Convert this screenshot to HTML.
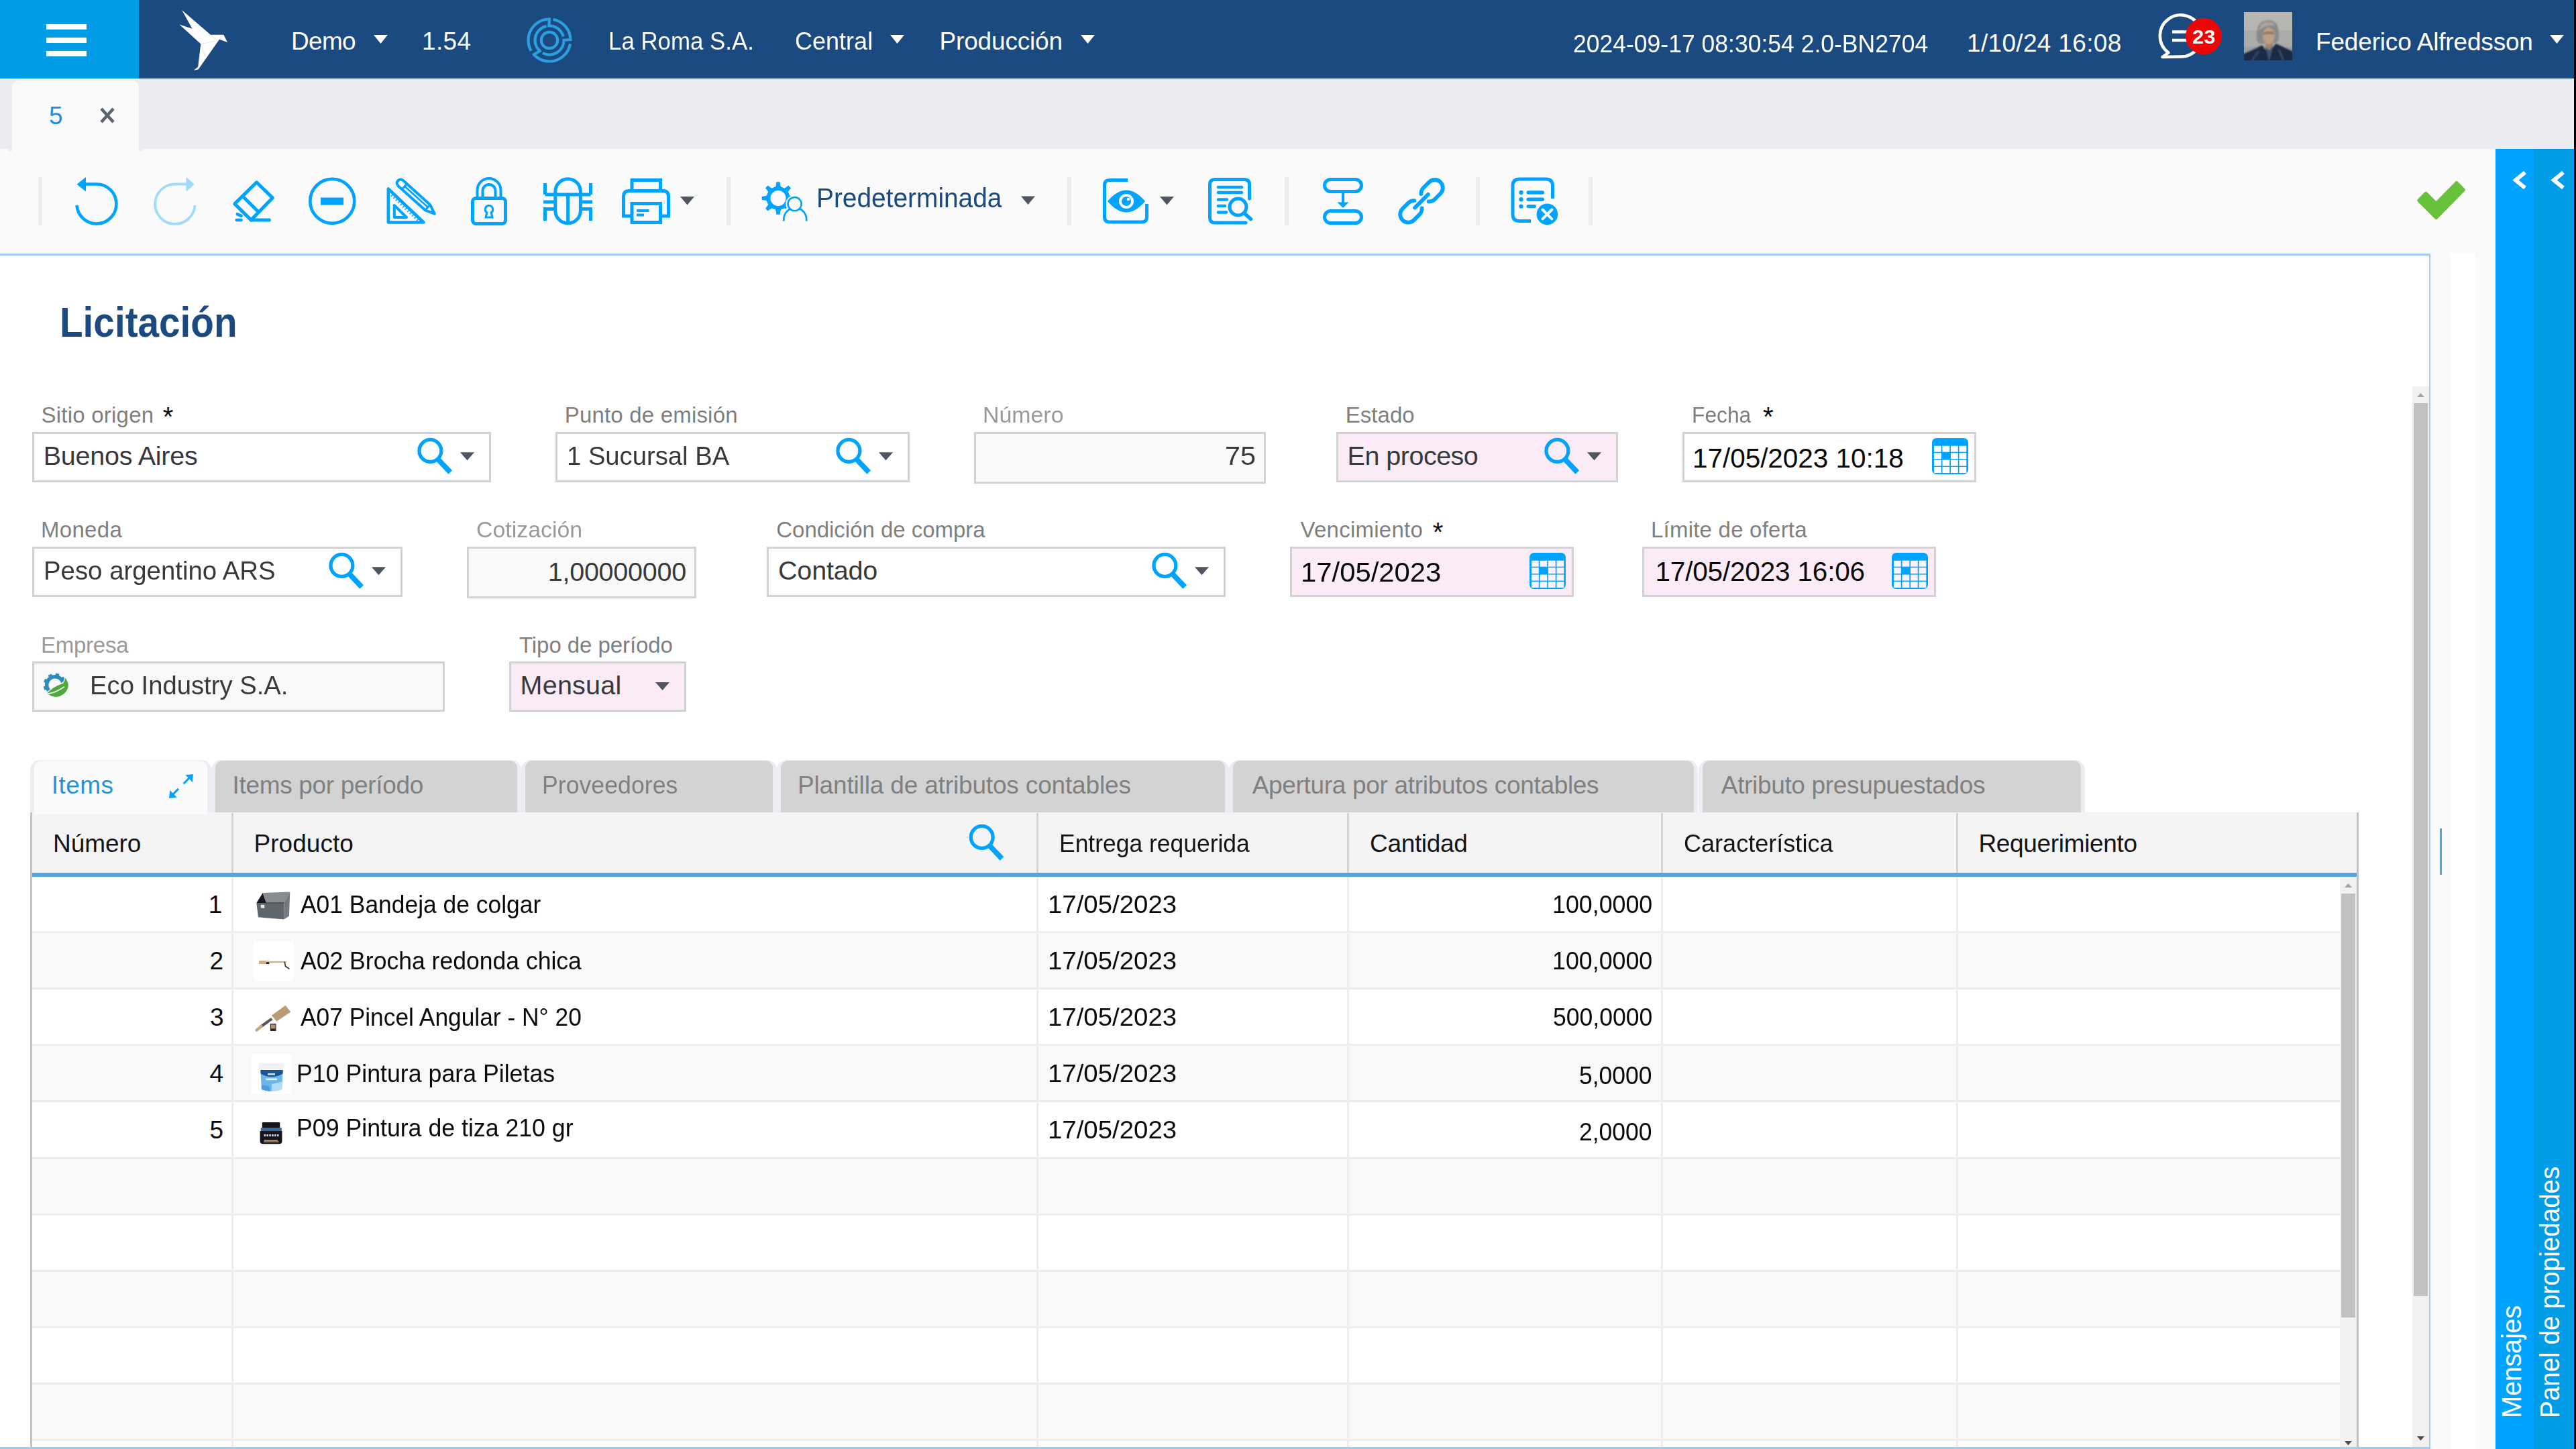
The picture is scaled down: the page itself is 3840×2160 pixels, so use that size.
<!DOCTYPE html>
<html lang="es"><head><meta charset="utf-8"><title>Licitación</title>
<style>
html,body{margin:0;padding:0}
body{background:#fafafa;font-family:"Liberation Sans",sans-serif}
#app{position:relative;width:3840px;height:2160px;overflow:hidden;background:#fafafa}
div,span,svg{position:absolute;box-sizing:border-box}
.t{white-space:pre;line-height:1}
.in{border:3px solid #d2d2d2;background:#fff;height:75px}
.ro{background:#f9f9f9;height:77px}
.pk{background:#faebf7}
.tab{top:1133px;height:78px;border-radius:15px 15px 0 0;background:#ececf2}
.tab i{position:absolute;left:6px;right:6px;top:0.5px;bottom:0;border-radius:11px 11px 0 0;background:#d3d3d3}
.row{left:48px;width:3440px}
.row:after{content:'';position:absolute;left:0;right:0;bottom:0;height:3px;background:#eee}
.ns:after{display:none}
.alt{background:#f9f9f9}
.vs{top:1307px;width:3px;height:850px;background:#eee}
.hs{top:1212px;width:3px;height:89px;background:#d3d3d3}
.sep{top:264px;width:6px;height:72px;background:#ebebf0}
</style></head>
<body>
<div id="app">
<div style="left:0;top:0;width:3837px;height:117px;background:#1a4a7f"></div>
<div style="left:0;top:0;width:207px;height:117px;background:#009de6"></div>
<div style="left:0;top:117px;width:3837px;height:105px;background:#eaecf1"></div>
<div style="left:18px;top:120px;width:189px;height:106px;background:#fafafa;border-radius:9px 9px 0 0"></div>
<div style="left:12px;top:222px;width:6px;height:3px;background:#eaecf1"></div><div style="left:207px;top:222px;width:6px;height:3px;background:#eaecf1"></div>
<div style="left:3720px;top:222px;width:57px;height:1938px;background:#00a3ff"></div>
<div style="left:3777px;top:222px;width:60px;height:1938px;background:#009ce5"></div>
<div style="left:3837px;top:0;width:3px;height:2160px;background:#000"></div>
<div class="sep" style="left:57px"></div>
<div class="sep" style="left:1083px"></div>
<div class="sep" style="left:1591px"></div>
<div class="sep" style="left:1915px"></div>
<div class="sep" style="left:2200px"></div>
<div class="sep" style="left:2368px"></div>
<div style="left:-3px;top:378px;width:3626px;height:1782px;background:#fff;border:3px solid #a3cbf0;border-right-width:2px"></div>
<div style="left:3653px;top:378px;width:37px;height:1782px;background:#fff"></div>
<div style="left:3637px;top:1235px;width:3px;height:69px;background:#55a5dd"></div>
<div style="left:3596px;top:576px;width:25px;height:1581px;background:#f1f1f1"></div>
<div style="left:3598px;top:601px;width:21px;height:1331px;background:#c1c1c1"></div>
<div class="in " style="left:48px;top:644px;width:684px"></div>
<div class="in " style="left:828px;top:644px;width:528px"></div>
<div class="in ro" style="left:1452px;top:644px;width:435px"></div>
<div class="in pk" style="left:1992px;top:644px;width:420px"></div>
<div class="in " style="left:2508px;top:644px;width:438px"></div>
<div class="in " style="left:48px;top:815px;width:552px"></div>
<div class="in ro" style="left:696px;top:815px;width:342px"></div>
<div class="in " style="left:1143px;top:815px;width:684px"></div>
<div class="in pk" style="left:1923px;top:815px;width:423px"></div>
<div class="in pk" style="left:2448px;top:815px;width:438px"></div>
<div class="in" style="left:48px;top:986px;width:615px;background:#f9f9f9"></div>
<div class="in pk" style="left:759px;top:986px;width:264px"></div>
<div style="left:45px;top:1211px;width:3471px;height:946px;background:#fff;border-left:3px solid #c3c3c3;border-right:3px solid #c0c0c0"></div>
<div style="left:48px;top:1211px;width:3465px;height:90px;background:#f4f4f4"></div>
<div style="left:48px;top:1301px;width:3465px;height:6px;background:#4fa6e0"></div>
<div class="row" style="top:1307px;height:84px"></div>
<div class="row alt" style="top:1391px;height:84px"></div>
<div class="row" style="top:1475px;height:84px"></div>
<div class="row alt" style="top:1559px;height:84px"></div>
<div class="row" style="top:1643px;height:85px"></div>
<div class="row alt" style="top:1728px;height:84px"></div>
<div class="row" style="top:1812px;height:84px"></div>
<div class="row alt" style="top:1896px;height:84px"></div>
<div class="row" style="top:1980px;height:84px"></div>
<div class="row alt" style="top:2064px;height:84px"></div>
<div class="row ns" style="top:2148px;height:9px"></div>
<div class="hs" style="left:345px"></div><div class="vs" style="left:345px"></div>
<div class="hs" style="left:1545px"></div><div class="vs" style="left:1545px"></div>
<div class="hs" style="left:2008px"></div><div class="vs" style="left:2008px"></div>
<div class="hs" style="left:2476px"></div><div class="vs" style="left:2476px"></div>
<div class="hs" style="left:2916px"></div><div class="vs" style="left:2916px"></div>
<div style="left:3488px;top:1307px;width:25px;height:850px;background:#f1f1f1"></div>
<div style="left:3490px;top:1332px;width:21px;height:632px;background:#c1c1c1"></div>
<div class="tab" style="left:45px;width:270px"><i style="background:#fafafa;bottom:-2.500px"></i></div>
<div class="tab" style="left:315px;width:462px"><i></i></div>
<div class="tab" style="left:777px;width:381px"><i></i></div>
<div class="tab" style="left:1158px;width:674px"><i></i></div>
<div class="tab" style="left:1832px;width:699px"><i></i></div>
<div class="tab" style="left:2532px;width:576px"><i></i></div>
<svg width="3840" height="2160" viewBox="0 0 3840 2160" style="left:0;top:0"><rect x="69" y="36" width="60" height="8" fill="#fff"/><rect x="69" y="56" width="60" height="8" fill="#fff"/><rect x="69" y="76" width="60" height="8" fill="#fff"/><polygon fill="#fff" points="271.1,14.9 313.8,51.8 333.3,51.8 339.1,63 327,58.8 295.6,103.6 288.9,104.8 295.2,99.4 299.3,65.5 267.4,36.5 286.5,42.7"/><path d="M299.300 65.500L321 61.500M299.300 65.500L306 84M313.800 51.800L323.500 60.500M333.300 51.800L327 58.800" stroke="#d9dde3" stroke-width="0.800" fill="none"/><polygon fill="#fff" points="557,52 578,52 567.5,65"/><polygon fill="#fff" points="1327,52 1348,52 1337.5,65"/><polygon fill="#fff" points="1611,52 1632,52 1621.5,65"/><polygon fill="#fff" points="3801,52 3822,52 3811.5,65"/><path d="M831.2 60A12.2 12.2 0 1 1 806.8 60A12.2 12.2 0 1 1 831.2 60 M805.76 76.94A21.5 21.5 0 0 1 814.53 38.97 M817.50 38.55A21.5 21.5 0 0 1 839.77 54.44 M840.49 60.75A21.5 21.5 0 0 1 808.91 78.98 M791.72 75.75A31.5 31.5 0 0 1 819.55 28.50 M824.47 28.98A31.5 31.5 0 0 1 850.33 56.71 M850.02 65.47A31.5 31.5 0 0 1 795.96 81.48 M819.0 26.5L818.3 40.5 M838.5 60.0L852.5 58.8 M806.5 74.9L794.1 82.4" fill="none" stroke="#2b9fe0" stroke-width="4.2"/><path d="M3223.500 85L3232.500 78.500A31 31 0 1 1 3250 84.500Z" fill="none" stroke="#fff" stroke-width="4.500" stroke-linejoin="round"/><path d="M3238 47.5H3262M3238 60H3262" stroke="#fff" stroke-width="4.5"/><circle cx="3285" cy="54" r="27" fill="#ee0505"/><defs><filter id="bl" x="-10%" y="-10%" width="120%" height="120%"><feGaussianBlur stdDeviation="1.3"/></filter><clipPath id="avc"><rect x="3345" y="18" width="72" height="72"/></clipPath></defs><g clip-path="url(#avc)"><g transform="translate(3345,18)"><rect x="-5" y="-5" width="82" height="82" fill="#aaabab"/><g filter="url(#bl)"><rect x="-5" y="-5" width="82" height="32" fill="#b8b6b1"/><rect x="-5" y="52" width="82" height="30" fill="#9d9fa2"/><path d="M19 40Q17 14 35 12Q54 11 52 38Q51 45 47 46L24 47Q20 46 19 40Z" fill="#8b8987"/><path d="M22 28Q24 15 36 15Q44 15 47 21Q38 18 30 22Q25 25 22 28Z" fill="#aaa8a4"/><rect x="32" y="44" width="11" height="12" fill="#9f846f"/><ellipse cx="37" cy="35.500" rx="9" ry="12.500" fill="#bd9e86"/><path d="M29 31Q37 27 45 31L45 34Q37 31 29 34Z" fill="#8f7562"/><path d="M-5 77V64L27 49.500L37 61L47.500 47L77 60V77Z" fill="#1f2b45"/><path d="M32.500 52L37.500 74L43.500 50L38 57Z" fill="#3d5779"/><path d="M10 75L22 58M60 75L52 56" stroke="#33466a" stroke-width="3"/></g></g></g><path d="M151 162L169 182M169 162L151 182" stroke="#5b6470" stroke-width="4.600"/><path d="M127 274.5H144A29.5 29.5 0 1 1 114.5 306" fill="none" stroke="#00a4fe" stroke-width="4.6"/><polygon points="114.5,274.8 128,264 128,285.5" fill="#00a4fe"/><g opacity="0.36"><path d="M278 274.5H260.800A29.700 29.700 0 1 0 290.500 306" fill="none" stroke="#00a4fe" stroke-width="3.800"/><polygon points="290,274.800 277.500,264 277.500,285.500" fill="#00a4fe"/></g><g fill="none" stroke="#00a4fe" stroke-width="5" stroke-linejoin="round" stroke-linecap="round"><path d="M382.500 271.800L406.300 294.900L374.200 327.900L349.800 303.900Z"/><path d="M361.700 292.500L384.100 314.700" stroke-linecap="butt"/><path d="M374.200 327.900H401.300"/><path d="M353.800 319.300L359.700 321.900M352.700 328.100H359.700" stroke-width="4.500"/></g><circle cx="495.3" cy="299.800" r="33" fill="none" stroke="#00a4fe" stroke-width="4.700"/><rect x="478" y="294.5" width="34" height="11" fill="#00a4fe"/><g fill="none" stroke="#00a4fe" stroke-width="4.500" stroke-linejoin="round"><path d="M578.800 281.500V331.500H631.500Z"/><path d="M587.800 306V324H606Z" stroke-width="4"/></g><path d="M583.500 291L627 332" stroke="#00a4fe" stroke-width="4" stroke-dasharray="1.500 3.300" fill="none"/><g transform="translate(597.3,273.1) rotate(42)" fill="none" stroke="#00a4fe" stroke-width="4" stroke-linejoin="round"><path d="M0 -5.500H54L68 0L54 5.500H0A5.500 5.500 0 0 1 0 -5.500Z" fill="#fafafa"/><path d="M7.500 -5.500V5.500M54 -5.500V5.500" stroke-width="3"/><path d="M7.500 -0.500H54" stroke-width="2.600"/><path d="M62 -2.300L68 0L62 2.300Z" fill="#00a4fe" stroke-width="1.500"/></g><g fill="none" stroke="#00a4fe" stroke-width="5"><rect x="704.5" y="295.5" width="49" height="38" rx="5"/><path d="M711.500 295V283.500A17.500 17.500 0 0 1 746.500 283.500V295" stroke-width="4"/><path d="M719.500 295V284.500A9.500 9.500 0 0 1 738.500 284.500V295" stroke-width="4"/></g><path d="M729 306.5a5.6 5.6 0 0 1 3.2 10.2l1.6 7.3h-9.6l1.6-7.3a5.6 5.6 0 0 1 3.2-10.2z" fill="none" stroke="#00a4fe" stroke-width="3.2"/><g fill="none" stroke="#00a4fe" stroke-width="5" stroke-width="4.6"><rect x="827.8" y="266.8" width="37.6" height="66" rx="18.8"/><path d="M812.5 290H880.5M846.6 290V333M812.5 273V290M880.5 273V290M810 301H827M866 301H883M827 311.5H812.5V329M866 311.5H880.5V329"/></g><g fill="none" stroke="#00a4fe" stroke-width="5"><path d="M942 283V268.5H984.5V283"/><path d="M941 322H929.5V293Q929.5 284.5 938 284.5H988Q996.5 284.5 996.5 293V322H985"/><rect x="942" y="303.5" width="42.5" height="28"/><path d="M949 314H967.5M949 320.5H960" stroke-width="4"/></g><polygon fill="#4f5662" points="1014,293 1035,293 1024.5,305.5"/><polygon fill="#4f5662" points="1522,292.5 1543,292.5 1532.5,305.0"/><polygon fill="#4f5662" points="1729,293 1750,293 1739.5,305.5"/><path d="M1176.2 291.2Q1179.3 292.6 1184.3 292.9L1184.3 298.1Q1179.3 298.4 1176.2 299.8ZM1174.5 303.9Q1175.7 307.1 1179.0 310.8L1175.3 314.5Q1171.6 311.2 1168.4 310.0ZM1164.3 311.7Q1162.9 314.8 1162.6 319.8L1157.4 319.8Q1157.1 314.8 1155.7 311.7ZM1151.6 310.0Q1148.4 311.2 1144.7 314.5L1141.0 310.8Q1144.3 307.1 1145.5 303.9ZM1143.8 299.8Q1140.7 298.4 1135.7 298.1L1135.7 292.9Q1140.7 292.6 1143.8 291.2ZM1145.5 287.1Q1144.3 283.9 1141.0 280.2L1144.7 276.5Q1148.4 279.8 1151.6 281.0ZM1155.7 279.3Q1157.1 276.2 1157.4 271.2L1162.6 271.2Q1162.9 276.2 1164.3 279.3ZM1168.4 281.0Q1171.6 279.8 1175.3 276.5L1179.0 280.2Q1175.7 283.9 1174.5 287.1Z" fill="#00a4fe"/><circle cx="1160" cy="295.500" r="14.500" fill="none" stroke="#00a4fe" stroke-width="6"/><circle cx="1184.600" cy="304.100" r="13.200" fill="#fafafa"/><path d="M1164.500 331V326A20.500 20 0 0 1 1205.700 326V331Z" fill="#fafafa"/><circle cx="1184.600" cy="304.100" r="10" fill="none" stroke="#00a4fe" stroke-width="2.700"/><path d="M1168.300 329.500V326A17 17.500 0 0 1 1202.200 326V329.500" fill="none" stroke="#00a4fe" stroke-width="2.700"/><circle cx="1184.600" cy="304.100" r="8.600" fill="#fafafa"/><g fill="none" stroke="#00a4fe" stroke-width="5"><path d="M1681 268.5H1654Q1646.5 268.5 1646.5 276V323.5Q1646.5 331 1654 331H1702Q1709.5 331 1709.5 323.5V304"/></g><path d="M1651 300Q1665 283.5 1679 283.5Q1693 283.5 1707 300Q1693 316.5 1679 316.5Q1665 316.5 1651 300Z" fill="#00a4fe"/><circle cx="1679" cy="300" r="11" fill="#fafafa"/><circle cx="1679" cy="300" r="7" fill="#00a4fe"/><circle cx="1682" cy="297" r="2.2" fill="#fafafa"/><g fill="none" stroke="#00a4fe" stroke-width="5" stroke-linecap="round"><path d="M1862.5 296V275Q1862.5 267.5 1855 267.5H1811Q1803.5 267.5 1803.5 275V324.5Q1803.5 332 1811 332H1857"/><g stroke-width="4.5"><path d="M1816 279H1851M1816 287H1851M1816 297.5H1829M1816 307H1826M1816 316.5H1828"/></g><circle cx="1845.5" cy="308.5" r="12.5" fill="#fafafa"/><path d="M1855 318L1864.5 326.5" stroke-width="5.5"/></g><g fill="none" stroke="#00a4fe" stroke-width="5"><rect x="1974.5" y="267.5" width="55" height="18" rx="9"/><rect x="1974.5" y="314.5" width="55" height="18" rx="9"/><path d="M2002 286V303" stroke-width="4"/></g><polygon points="1993.5,301.5 2010.5,301.5 2002,310" fill="#00a4fe"/><g transform="translate(2119,299.8) rotate(-45)" fill="none" stroke="#00a4fe" stroke-width="5.800" stroke-linecap="round"><path d="M7.100 -8A12 12 0 0 1 16 -12H28A12 12 0 0 1 28 12H16A12 12 0 0 1 7.100 8"/><path d="M-7.100 8A12 12 0 0 1 -16 12H-28A12 12 0 0 1 -28 -12H-16A12 12 0 0 1 -7.100 -8"/><path d="M-14 0H14"/></g><g fill="none" stroke="#00a4fe" stroke-width="5"><path d="M2314.5 296V277Q2314.500 267 2304.500 267H2265Q2255 267 2255 277V319.500Q2255 329.500 2265 329.500H2282"/></g><g fill="#00a4fe"><circle cx="2267.5" cy="287" r="3.2"/><circle cx="2267.5" cy="297.3" r="3.2"/><circle cx="2267.5" cy="307.600" r="3.2"/><rect x="2275.500" y="284.300" width="26.500" height="5.400" rx="2.700"/><rect x="2275.500" y="294.600" width="26.500" height="5.400" rx="2.700"/><rect x="2275.500" y="304.900" width="14.500" height="5.400" rx="2.700"/><circle cx="2306.400" cy="319.400" r="15.800"/></g><path d="M2299.500 312.500L2313.300 326.300M2313.300 312.500L2299.500 326.300" stroke="#fff" stroke-width="4" stroke-linecap="round"/><path d="M3605.800 298.700L3616.200 288.300L3631.500 303.500L3662 272.500L3672.400 282.900L3631.500 324.500Z" fill="#68c13a" stroke="#68c13a" stroke-width="5" stroke-linejoin="round"/><path d="M3764 257L3750 268.500L3764 280" fill="none" stroke="#fff" stroke-width="6"/><path d="M3821 257L3807 268.500L3821 280" fill="none" stroke="#fff" stroke-width="6"/><polygon points="3603,592 3614,592 3608.5,586" fill="#a3a3a3"/><polygon points="3603,2141 3614,2141 3608.5,2147.5" fill="#505050"/><polygon points="3495,1323 3506,1323 3500.5,1317" fill="#a3a3a3"/><polygon points="3495,2148 3506,2148 3500.5,2154.5" fill="#505050"/><circle cx="641.4" cy="671.9" r="16.450" fill="none" stroke="#00a4fe" stroke-width="5.300"/><path d="M652.2 683.8L671.2 704.0" stroke="#00a4fe" stroke-width="7.800"/><polygon fill="#4f5662" points="686,674.3 707,674.3 696.5,686.3"/><circle cx="1265.4" cy="671.9" r="16.450" fill="none" stroke="#00a4fe" stroke-width="5.300"/><path d="M1276.2 683.8L1295.2 704.0" stroke="#00a4fe" stroke-width="7.800"/><polygon fill="#4f5662" points="1310,674.3 1331,674.3 1320.5,686.3"/><circle cx="2321.4" cy="671.9" r="16.450" fill="none" stroke="#00a4fe" stroke-width="5.300"/><path d="M2332.2 683.8L2351.2 704.0" stroke="#00a4fe" stroke-width="7.800"/><polygon fill="#4f5662" points="2366,674.3 2387,674.3 2376.5,686.3"/><circle cx="509.4" cy="842.9" r="16.450" fill="none" stroke="#00a4fe" stroke-width="5.300"/><path d="M520.2 854.8L539.2 875.0" stroke="#00a4fe" stroke-width="7.800"/><polygon fill="#4f5662" points="554,845.3 575,845.3 564.5,857.3"/><circle cx="1736.4" cy="842.9" r="16.450" fill="none" stroke="#00a4fe" stroke-width="5.300"/><path d="M1747.2 854.8L1766.2 875.0" stroke="#00a4fe" stroke-width="7.800"/><polygon fill="#4f5662" points="1781,845.3 1802,845.3 1791.5,857.3"/><polygon fill="#4f5662" points="977,1017 998,1017 987.5,1029"/><rect x="2880" y="653" width="54" height="54" rx="6.5" fill="#00a4fe"/><rect x="2883.0" y="664.70" width="10.800" height="9" fill="#fff"/><rect x="2883.0" y="675.15" width="10.800" height="9" fill="#fff"/><rect x="2883.0" y="685.60" width="10.800" height="9" fill="#fff"/><rect x="2883.0" y="696.05" width="10.800" height="9" fill="#fff"/><rect x="2895.5" y="664.70" width="10.800" height="9" fill="#fff"/><rect x="2895.5" y="685.60" width="10.800" height="9" fill="#fff"/><rect x="2895.5" y="696.05" width="10.800" height="9" fill="#fff"/><rect x="2908.0" y="664.70" width="10.800" height="9" fill="#fff"/><rect x="2908.0" y="675.15" width="10.800" height="9" fill="#fff"/><rect x="2908.0" y="685.60" width="10.800" height="9" fill="#fff"/><rect x="2908.0" y="696.05" width="10.800" height="9" fill="#fff"/><rect x="2920.5" y="664.70" width="10.800" height="9" fill="#fff"/><rect x="2920.5" y="675.15" width="10.800" height="9" fill="#fff"/><rect x="2920.5" y="685.60" width="10.800" height="9" fill="#fff"/><rect x="2920.5" y="696.05" width="10.800" height="9" fill="#fff"/><rect x="2280" y="824" width="54" height="54" rx="6.5" fill="#00a4fe"/><rect x="2283.0" y="835.70" width="10.800" height="9" fill="#fdf3fb"/><rect x="2283.0" y="846.15" width="10.800" height="9" fill="#fdf3fb"/><rect x="2283.0" y="856.60" width="10.800" height="9" fill="#fdf3fb"/><rect x="2283.0" y="867.05" width="10.800" height="9" fill="#fdf3fb"/><rect x="2295.5" y="835.70" width="10.800" height="9" fill="#fdf3fb"/><rect x="2295.5" y="856.60" width="10.800" height="9" fill="#fdf3fb"/><rect x="2295.5" y="867.05" width="10.800" height="9" fill="#fdf3fb"/><rect x="2308.0" y="835.70" width="10.800" height="9" fill="#fdf3fb"/><rect x="2308.0" y="846.15" width="10.800" height="9" fill="#fdf3fb"/><rect x="2308.0" y="856.60" width="10.800" height="9" fill="#fdf3fb"/><rect x="2308.0" y="867.05" width="10.800" height="9" fill="#fdf3fb"/><rect x="2320.5" y="835.70" width="10.800" height="9" fill="#fdf3fb"/><rect x="2320.5" y="846.15" width="10.800" height="9" fill="#fdf3fb"/><rect x="2320.5" y="856.60" width="10.800" height="9" fill="#fdf3fb"/><rect x="2320.5" y="867.05" width="10.800" height="9" fill="#fdf3fb"/><rect x="2820" y="824" width="54" height="54" rx="6.5" fill="#00a4fe"/><rect x="2823.0" y="835.70" width="10.800" height="9" fill="#fdf3fb"/><rect x="2823.0" y="846.15" width="10.800" height="9" fill="#fdf3fb"/><rect x="2823.0" y="856.60" width="10.800" height="9" fill="#fdf3fb"/><rect x="2823.0" y="867.05" width="10.800" height="9" fill="#fdf3fb"/><rect x="2835.5" y="835.70" width="10.800" height="9" fill="#fdf3fb"/><rect x="2835.5" y="856.60" width="10.800" height="9" fill="#fdf3fb"/><rect x="2835.5" y="867.05" width="10.800" height="9" fill="#fdf3fb"/><rect x="2848.0" y="835.70" width="10.800" height="9" fill="#fdf3fb"/><rect x="2848.0" y="846.15" width="10.800" height="9" fill="#fdf3fb"/><rect x="2848.0" y="856.60" width="10.800" height="9" fill="#fdf3fb"/><rect x="2848.0" y="867.05" width="10.800" height="9" fill="#fdf3fb"/><rect x="2860.5" y="835.70" width="10.800" height="9" fill="#fdf3fb"/><rect x="2860.5" y="846.15" width="10.800" height="9" fill="#fdf3fb"/><rect x="2860.5" y="856.60" width="10.800" height="9" fill="#fdf3fb"/><rect x="2860.5" y="867.05" width="10.800" height="9" fill="#fdf3fb"/><circle cx="1463.7" cy="1247.9" r="16.450" fill="none" stroke="#00a4fe" stroke-width="5.300"/><path d="M1474.5 1259.8L1493.5 1280.0" stroke="#00a4fe" stroke-width="7.800"/><g fill="#00a4fe" stroke="#00a4fe"><path d="M273.700 1168.200L282.500 1159.300" stroke-width="3"/><polygon points="276.400,1155.300 288,1153.900 286.800,1165.900" stroke="none"/><path d="M265.900 1175.800L257.500 1184.600" stroke-width="3"/><polygon points="253.300,1178.100 252,1189.900 263.600,1188.400" stroke="none"/></g><path d="M72.86 1029.23A12.3 12.3 0 1 1 93.70 1017.20" fill="none" stroke="#2e8bc0" stroke-width="5.500"/><path d="M70.7 1027.5L66.3 1028.7L64.7 1023.4L69.0 1021.9ZM69.2 1018.7L65.0 1016.8L67.2 1011.7L71.5 1013.4ZM73.6 1011.0L71.7 1006.8L76.6 1004.4L78.9 1008.4ZM82.0 1008.0L83.2 1003.5L88.6 1004.8L87.7 1009.3ZM90.4 1011.0L94.2 1008.4L97.5 1012.8L93.9 1015.7Z" fill="#2e8bc0"/><path d="M69.600 1034Q77 1024 93 1018.500Q97.500 1014 96.500 1008.500Q104.500 1017 101.500 1026.500Q97 1038 84 1039.500Q76 1039.500 69.600 1034Z" fill="#4fa83a" stroke="#f9f9f9" stroke-width="1.200"/><path d="M70 1034.500Q84 1032.500 96 1023.500" stroke="#f1f5ee" stroke-width="1.600" fill="none"/><g><path d="M382.300 1345.900L423.600 1345.900L423.100 1370.600L385 1367.200Z" fill="#5f656c"/><path d="M382.300 1345.900L391.700 1330.900L397 1345.900Z" fill="#16161f"/><path d="M391.700 1330.900L432.300 1329.500L423.600 1345.900L397 1345.900Z" fill="#888b8f"/><path d="M423.600 1345.900L432.300 1329.500L430.900 1365.700L423.100 1370.600Z" fill="#74777b"/><path d="M396 1345.900H423.600" stroke="#4a4e53" stroke-width="1.500"/><rect x="388.800" y="1348.800" width="5.400" height="4.800" fill="#e6eef2"/></g><rect x="378" y="1403" width="60" height="60" fill="#fff"/><path d="M386 1434.500H397" stroke="#cdb08a" stroke-width="5"/><rect x="397" y="1431.300" width="4.400" height="2.800" fill="#d8d8d8"/><rect x="397" y="1434.100" width="4.400" height="2.900" fill="#222"/><path d="M401.400 1434H427" stroke="#c9b494" stroke-width="2.400"/><path d="M424.200 1433.700L425.600 1440.500L431.400 1444.400" stroke="#2a2a2a" stroke-width="1.600" fill="none"/><g><path d="M405.300 1518.600L388.400 1530.700" stroke="#57575c" stroke-width="4.200"/><path d="M389.500 1530L382.500 1535.600" stroke="#c9a57a" stroke-width="4.200" stroke-linecap="round"/><path d="M404.800 1513.800L425.600 1498.800L433.300 1508.500L412.500 1522.500Z" fill="#b89a74"/><rect x="402.900" y="1525.900" width="8.600" height="11.100" fill="#2a2a30"/><rect x="404" y="1527.300" width="6.400" height="6" fill="#b39672"/><rect x="407.800" y="1532.600" width="1.600" height="1.600" fill="#e01010"/></g><rect x="375" y="1571" width="60" height="60" fill="#fff"/><path d="M386 1584.500h37.600v8.500q0 1.500-1.500 1.500h-34.600q-1.500 0-1.500-1.500z" fill="#f1f2f5"/><path d="M388.400 1595H421.700L420.200 1624Q405 1629 389.800 1624Z" fill="#6db6ec"/><path d="M388.400 1595H421.700L421.500 1600.500Q405 1610 388.600 1600.500Z" fill="#1c5391"/><path d="M405 1616L420.600 1612.500L420.200 1624Q413 1627 405 1627.300Z" fill="#b4dbf6"/><path d="M390 1617L401 1619L403 1627Q396 1626.500 389.900 1624Z" fill="#4e9fe0"/><rect x="396.500" y="1607.500" width="16.500" height="2.600" fill="#e6f3fc"/><rect x="399" y="1600" width="11" height="2.600" fill="#cfe2f3"/><g><rect x="390.800" y="1673.100" width="26.500" height="8.500" rx="1" fill="#14141f"/><rect x="388.800" y="1681" width="31" height="5.200" fill="#3e6a9a"/><path d="M387.600 1686H420.500V1700.700Q420.500 1705.200 416 1705.200H392.100Q387.600 1705.200 387.600 1700.700Z" fill="#15151f"/><path d="M393.500 1692.500h22" stroke="#d9dbe0" stroke-width="3.200" stroke-dasharray="2.600 1.300"/><path d="M393.700 1700H414" stroke="#c98f4e" stroke-width="1.800"/><path d="M393 1702H415.500" stroke="#8d8d90" stroke-width="1.600"/></g></svg>
<span class="t" style="font-size:37.0px;color:#ffffff;letter-spacing:-0.67px;left:434.0px;top:43.2px;">Demo</span>
<span class="t" style="font-size:37.0px;color:#ffffff;letter-spacing:0.33px;left:629.0px;top:43.2px;">1.54</span>
<span class="t" style="font-size:37.0px;color:#ffffff;left:907.2px;top:43.2px;transform-origin:0 0;transform:scaleX(0.9420);">La Roma S.A.</span>
<span class="t" style="font-size:37.0px;color:#ffffff;left:1185.1px;top:43.2px;transform-origin:0 0;transform:scaleX(0.9739);">Central</span>
<span class="t" style="font-size:37.0px;color:#ffffff;letter-spacing:-0.17px;left:1400.5px;top:43.2px;">Producción</span>
<span class="t" style="font-size:37.0px;color:#ffffff;left:2345.1px;top:46.7px;transform-origin:0 0;transform:scaleX(0.9599);">2024-09-17 08:30:54 2.0-BN2704</span>
<span class="t" style="font-size:37.0px;color:#ffffff;letter-spacing:0.33px;left:2932.0px;top:46.2px;">1/10/24 16:08</span>
<span class="t" style="font-size:37.0px;color:#ffffff;letter-spacing:-0.17px;left:3452.0px;top:43.7px;">Federico Alfredsson</span>
<span class="t" style="font-size:30.0px;color:#ffffff;font-weight:700;left:3268.0px;top:39.7px;transform-origin:0 0;transform:scaleX(1.0323);">23</span>
<span class="t" style="font-size:37.0px;color:#1e8fd9;left:73.0px;top:154.2px;">5</span>
<span class="t" style="font-size:40.5px;color:#1a4a7f;left:1217.1px;top:275.2px;transform-origin:0 0;transform:scaleX(0.9593);">Predeterminada</span>
<span class="t" style="font-size:63.0px;color:#1a4a7f;font-weight:700;left:89.4px;top:448.6px;transform-origin:0 0;transform:scaleX(0.8997);">Licitación</span>
<span class="t" style="font-size:33.0px;color:#7f7f7f;letter-spacing:0.23px;left:61.5px;top:601.6px;">Sitio origen</span>
<span class="t" style="font-size:40px;color:#0a0a0a;left:242.8px;top:601.0px;">*</span>
<span class="t" style="font-size:33.0px;color:#7f7f7f;letter-spacing:0.19px;left:841.7px;top:601.6px;">Punto de emisión</span>
<span class="t" style="font-size:33.0px;color:#9a9a9a;left:1464.9px;top:601.6px;transform-origin:0 0;transform:scaleX(1.0265);">Número</span>
<span class="t" style="font-size:33.0px;color:#7f7f7f;letter-spacing:0.06px;left:2005.7px;top:601.6px;">Estado</span>
<span class="t" style="font-size:33.0px;color:#7f7f7f;left:2521.5px;top:601.6px;transform-origin:0 0;transform:scaleX(0.9618);">Fecha</span>
<span class="t" style="font-size:40px;color:#0a0a0a;left:2628.0px;top:601.0px;">*</span>
<span class="t" style="font-size:33.0px;color:#7f7f7f;letter-spacing:0.30px;left:61.0px;top:773.1px;">Moneda</span>
<span class="t" style="font-size:33.0px;color:#9a9a9a;left:709.9px;top:773.1px;transform-origin:0 0;transform:scaleX(1.0260);">Cotización</span>
<span class="t" style="font-size:33.0px;color:#7f7f7f;letter-spacing:-0.03px;left:1157.3px;top:773.1px;">Condición de compra</span>
<span class="t" style="font-size:33.0px;color:#7f7f7f;letter-spacing:0.24px;left:1938.6px;top:773.1px;">Vencimiento</span>
<span class="t" style="font-size:40px;color:#0a0a0a;left:2135.7px;top:772.5px;">*</span>
<span class="t" style="font-size:33.0px;color:#7f7f7f;letter-spacing:0.22px;left:2461.0px;top:773.1px;">Límite de oferta</span>
<span class="t" style="font-size:33.0px;color:#9a9a9a;letter-spacing:-0.25px;left:61.0px;top:944.6px;">Empresa</span>
<span class="t" style="font-size:33.0px;color:#7f7f7f;letter-spacing:-0.07px;left:774.0px;top:944.6px;">Tipo de período</span>
<span class="t" style="font-size:39.5px;color:#38393d;letter-spacing:-0.25px;left:64.7px;top:659.9px;">Buenos Aires</span>
<span class="t" style="font-size:39.5px;color:#38393d;left:844.6px;top:659.9px;transform-origin:0 0;transform:scaleX(0.9676);">1 Sucursal BA</span>
<span class="t" style="font-size:39.5px;color:#38393d;left:1826.4px;top:659.9px;transform-origin:0 0;transform:scaleX(1.0475);">75</span>
<span class="t" style="font-size:39.5px;color:#38393d;letter-spacing:-0.51px;left:2008.6px;top:659.9px;">En proceso</span>
<span class="t" style="font-size:40.5px;color:#0a0a0a;letter-spacing:-0.04px;left:2523.0px;top:663.2px;">17/05/2023 10:18</span>
<span class="t" style="font-size:39.5px;color:#38393d;left:64.8px;top:831.1px;transform-origin:0 0;transform:scaleX(0.9715);">Peso argentino ARS</span>
<span class="t" style="font-size:39.5px;color:#38393d;letter-spacing:-0.24px;left:816.7px;top:833.3px;">1,00000000</span>
<span class="t" style="font-size:39.5px;color:#38393d;letter-spacing:-0.17px;left:1160.0px;top:831.1px;">Contado</span>
<span class="t" style="font-size:40.5px;color:#0a0a0a;left:1938.9px;top:833.2px;transform-origin:0 0;transform:scaleX(1.0328);">17/05/2023</span>
<span class="t" style="font-size:40.5px;color:#0a0a0a;letter-spacing:-0.18px;left:2467.5px;top:832.2px;">17/05/2023 16:06</span>
<span class="t" style="font-size:39.5px;color:#38393d;left:133.9px;top:1001.9px;transform-origin:0 0;transform:scaleX(0.9682);">Eco Industry S.A.</span>
<span class="t" style="font-size:39.5px;color:#38393d;letter-spacing:0.23px;left:775.6px;top:1001.9px;">Mensual</span>
<span class="t" style="font-size:37.0px;color:#1e96dc;letter-spacing:0.45px;left:76.7px;top:1152.4px;">Items</span>
<span class="t" style="font-size:37.0px;color:#808080;letter-spacing:-0.33px;left:346.5px;top:1152.4px;">Items por período</span>
<span class="t" style="font-size:37.0px;color:#808080;left:808.1px;top:1152.4px;transform-origin:0 0;transform:scaleX(0.9644);">Proveedores</span>
<span class="t" style="font-size:37.0px;color:#808080;letter-spacing:-0.16px;left:1189.0px;top:1152.4px;">Plantilla de atributos contables</span>
<span class="t" style="font-size:37.0px;color:#808080;letter-spacing:-0.31px;left:1866.7px;top:1152.4px;">Apertura por atributos contables</span>
<span class="t" style="font-size:37.0px;color:#808080;letter-spacing:-0.34px;left:2565.8px;top:1152.4px;">Atributo presupuestados</span>
<span class="t" style="font-size:37.0px;color:#141414;letter-spacing:-0.06px;left:79.0px;top:1239.2px;">Número</span>
<span class="t" style="font-size:37.0px;color:#141414;letter-spacing:0.01px;left:378.6px;top:1239.2px;">Producto</span>
<span class="t" style="font-size:37.0px;color:#141414;left:1579.1px;top:1239.2px;transform-origin:0 0;transform:scaleX(0.9580);">Entrega requerida</span>
<span class="t" style="font-size:37.0px;color:#141414;letter-spacing:-0.33px;left:2042.0px;top:1239.2px;">Cantidad</span>
<span class="t" style="font-size:37.0px;color:#141414;left:2510.1px;top:1239.2px;transform-origin:0 0;transform:scaleX(0.9748);">Característica</span>
<span class="t" style="font-size:37.0px;color:#141414;letter-spacing:-0.33px;left:2949.4px;top:1239.2px;">Requerimiento</span>
<span class="t" style="font-size:37.0px;color:#0a0a0a;left:310.8px;top:1330.2px;">1</span>
<span class="t" style="font-size:37.0px;color:#0a0a0a;left:312.5px;top:1414.2px;">2</span>
<span class="t" style="font-size:37.0px;color:#0a0a0a;left:313.0px;top:1498.2px;">3</span>
<span class="t" style="font-size:37.0px;color:#0a0a0a;left:312.5px;top:1581.7px;">4</span>
<span class="t" style="font-size:37.0px;color:#0a0a0a;left:312.5px;top:1665.7px;">5</span>
<span class="t" style="font-size:37.0px;color:#0a0a0a;left:448.2px;top:1330.2px;transform-origin:0 0;transform:scaleX(0.9567);">A01 Bandeja de colgar</span>
<span class="t" style="font-size:37.0px;color:#0a0a0a;left:448.2px;top:1414.2px;transform-origin:0 0;transform:scaleX(0.9606);">A02 Brocha redonda chica</span>
<span class="t" style="font-size:37.0px;color:#0a0a0a;left:448.2px;top:1498.2px;transform-origin:0 0;transform:scaleX(0.9551);">A07 Pincel Angular - N° 20</span>
<span class="t" style="font-size:37.0px;color:#0a0a0a;left:442.1px;top:1581.7px;transform-origin:0 0;transform:scaleX(0.9651);">P10 Pintura para Piletas</span>
<span class="t" style="font-size:37.0px;color:#0a0a0a;left:441.6px;top:1663.4px;transform-origin:0 0;transform:scaleX(0.9644);">P09 Pintura de tiza 210 gr</span>
<span class="t" style="font-size:37.0px;color:#0a0a0a;left:1561.5px;top:1330.2px;transform-origin:0 0;transform:scaleX(1.0376);">17/05/2023</span>
<span class="t" style="font-size:37.0px;color:#0a0a0a;left:1561.5px;top:1414.2px;transform-origin:0 0;transform:scaleX(1.0376);">17/05/2023</span>
<span class="t" style="font-size:37.0px;color:#0a0a0a;left:1561.5px;top:1498.2px;transform-origin:0 0;transform:scaleX(1.0376);">17/05/2023</span>
<span class="t" style="font-size:37.0px;color:#0a0a0a;left:1561.5px;top:1581.7px;transform-origin:0 0;transform:scaleX(1.0376);">17/05/2023</span>
<span class="t" style="font-size:37.0px;color:#0a0a0a;left:1561.5px;top:1665.7px;transform-origin:0 0;transform:scaleX(1.0376);">17/05/2023</span>
<span class="t" style="font-size:37.0px;color:#0a0a0a;left:2313.5px;top:1330.2px;transform-origin:0 0;transform:scaleX(0.9673);">100,0000</span>
<span class="t" style="font-size:37.0px;color:#0a0a0a;left:2313.5px;top:1414.2px;transform-origin:0 0;transform:scaleX(0.9673);">100,0000</span>
<span class="t" style="font-size:37.0px;color:#0a0a0a;left:2314.5px;top:1498.2px;transform-origin:0 0;transform:scaleX(0.9609);">500,0000</span>
<span class="t" style="font-size:37.0px;color:#0a0a0a;left:2354.1px;top:1584.7px;transform-origin:0 0;transform:scaleX(0.9591);">5,0000</span>
<span class="t" style="font-size:37.0px;color:#0a0a0a;left:2354.1px;top:1668.7px;transform-origin:0 0;transform:scaleX(0.9591);">2,0000</span>
<span class="t" style="font-size:40.0px;color:#ffffff;letter-spacing:-0.43px;left:3724.1px;top:2114.0px;transform-origin:0 0;transform:rotate(-90deg);">Mensajes</span>
<span class="t" style="font-size:40.0px;color:#ffffff;left:3781.1px;top:2113.9px;transform-origin:0 0;transform:rotate(-90deg) scaleX(0.9644);">Panel de propiedades</span>
</div>
</body></html>
